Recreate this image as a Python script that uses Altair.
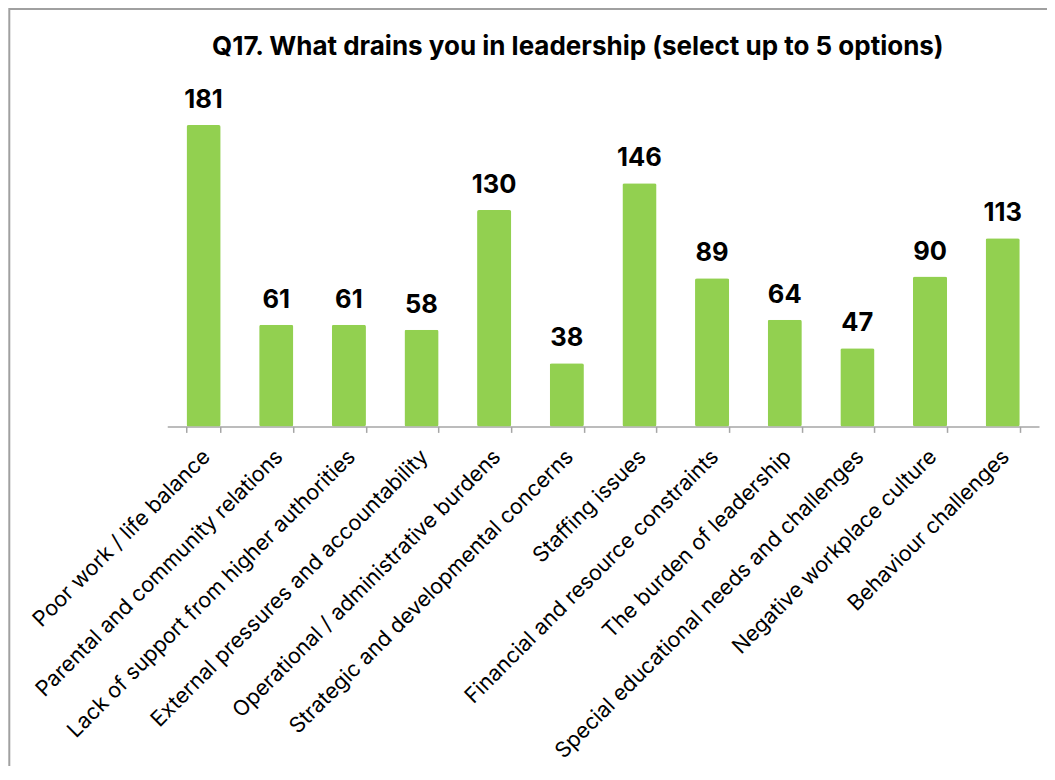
import altair as alt
import pandas as pd

TITLE = "Q17. What drains you in leadership (select up to 5 options)"
categories = [
    "Poor work / life balance",
    "Parental and community relations",
    "Lack of support from higher authorities",
    "External pressures and accountability",
    "Operational / administrative burdens",
    "Strategic and developmental concerns",
    "Staffing issues",
    "Financial and resource constraints",
    "The burden of leadership",
    "Special educational needs and challenges",
    "Negative workplace culture",
    "Behaviour challenges",
]
values = [181, 61, 61, 58, 130, 38, 146, 89, 64, 47, 90, 113]

df = pd.DataFrame({"category": categories, "value": values})

FONT = "Inter"
W, H = 872, 333

x = alt.X(
    "category:N",
    sort=categories,
    scale=alt.Scale(paddingInner=0.53, paddingOuter=0.265),
    axis=alt.Axis(
        title=None,
        labelAngle=-45,
        labelAlign="right",
        labelBaseline="middle",
        labelPadding=21,
        labelOffset=3,
        labelFont=FONT,
        labelFontSize=21.5,
        labelColor="#000000",
        labelLimit=600,
        labelOverlap=False,
        domainColor="#A6A6A6",
        domainWidth=1.5,
        tickColor="#A6A6A6",
        tickWidth=1.5,
        tickSize=6,
        tickBand="extent",
        grid=False,
    ),
)
y = alt.Y("value:Q", scale=alt.Scale(domain=[0, 200], nice=False), axis=None)

base = alt.Chart(df).encode(x=x, y=y)
bars = base.mark_bar(color="#92D050", cornerRadius=2)
labels = base.mark_text(
    dy=-17, baseline="alphabetic", font=FONT, fontSize=25.5, fontWeight="bold", color="#000000"
).encode(text="value:Q")

frame = alt.Chart(alt.Data(values=[{"a": 1}])).mark_rect(
    fill="transparent", stroke="#A0A0A0", strokeWidth=2
).encode(
    x=alt.value(-158), x2=alt.value(3000), y=alt.value(-84.5), y2=alt.value(3000)
)

title = alt.Chart(alt.Data(values=[{"t": TITLE}])).mark_text(
    font=FONT, fontSize=26, fontWeight="bold", color="#000000", baseline="alphabetic", align="center"
).encode(text="t:N", x=alt.value(410.7), y=alt.value(-38.4))

chart = (
    alt.layer(bars, labels, title, frame)
    .properties(
        width=W,
        height=H,
        background="white",
        autosize=alt.AutoSizeParams(type="none"),
        padding={"left": 159.3, "top": 85.4, "right": 8, "bottom": 340},
    )
    .configure_view(stroke=None, strokeWidth=0)
)

chart.save("out.html", embed_options={"renderer": "svg", "actions": False})
